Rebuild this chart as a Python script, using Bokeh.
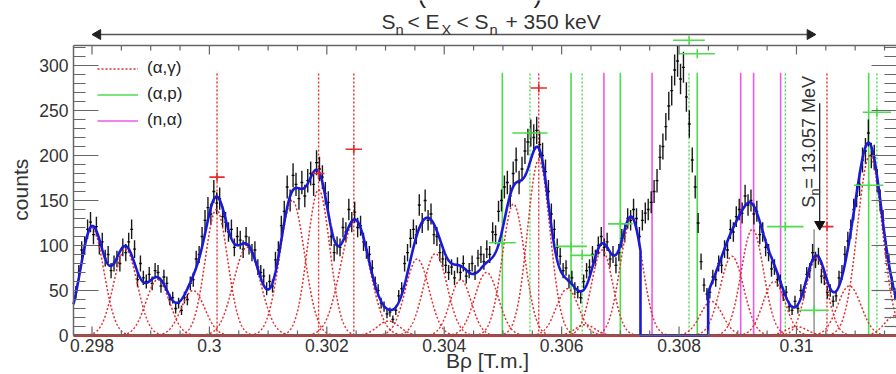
import math
import numpy as np
from bokeh.plotting import figure
from bokeh.models import Range1d, Legend, LegendItem, Grid
from bokeh.core.properties import value
from bokeh.embed import file_html
from bokeh.resources import INLINE

FONT = "Liberation Sans"
TXT = "#333333"

# ---------------- data ----------------
# focal-plane spectrum, Bρ bins of 0.00005 T.m. starting at 0.2977 T.m.
bin_start = 0.2977
bin_width = 0.00005
counts = [
    48, 70, 95, 100, 118, 126, 112, 121, 100, 104,
    86, 90, 72, 80, 85, 80, 98, 92, 104, 118,
    96, 62, 80, 64, 60, 68, 58, 72, 70, 55,
    65, 58, 40, 42, 30, 36, 28, 42, 40, 58,
    62, 85, 90, 110, 128, 142, 135, 160, 147, 152,
    132, 126, 115, 118, 98, 110, 106, 96, 110, 100,
    92, 95, 76, 70, 66, 52, 60, 55, 84, 95,
    122, 138, 165, 150, 178, 168, 152, 170, 155, 172,
    180, 168, 192, 185, 176, 158, 148, 110, 92, 100,
    98, 120, 115, 140, 126, 137, 120, 122, 104, 95,
    90, 75, 58, 50, 36, 32, 24, 26, 18, 28,
    44, 52, 80, 92, 108, 118, 112, 145, 125, 150,
    128, 135, 112, 110, 92, 85, 78, 70, 76, 64,
    78, 70, 80, 66, 72, 80, 70, 86, 90, 82,
    96, 90, 115, 112, 138, 150, 165, 170, 155, 180,
    195, 170, 185, 205, 215, 225, 220, 228, 212, 200,
    182, 160, 135, 118, 98, 88, 72, 75, 60, 64,
    52, 48, 42, 60, 72, 76, 90, 86, 100, 110,
    98, 104, 85, 90, 78, 92, 108, 114, 130, 128,
    140, 130, 110, 128, 136, 140, 148, 160, 172, 198,
    210, 232, 255, 272, 295, 305, 285, 298, 265, 235,
    195, 165, 125, 82, 56, 46, 48, 65, 62, 80,
    78, 96, 95, 118, 115, 132, 140, 136, 155, 145,
    150, 135, 138, 112, 115, 98, 92, 74, 76, 62,
    60, 45, 48, 32, 28, 38, 30, 50, 48, 68,
    72, 92, 84, 88, 66, 64, 48, 50, 38, 44,
    64, 70, 90, 105, 118, 140, 155, 168, 195, 205,
    225, 200, 198, 172, 150, 128, 95, 82, 58, 46,
    40,
]

# Gaussian components of the multi-peak fit (centre [T.m.], height [counts], sigma [T.m.])
peak_center = [0.29800, 0.29857, 0.29912, 0.29972, 0.30012, 0.30064, 0.30141, 0.30186,
               0.30248, 0.30305, 0.30354, 0.30385, 0.30428, 0.30472, 0.30518, 0.30561,
               0.30610, 0.30640, 0.30669, 0.30719, 0.30855, 0.30890, 0.30925, 0.30962,
               0.31000, 0.31034, 0.31090, 0.31125, 0.31168]
peak_amp = [120, 96, 62, 50, 140, 98, 150, 162,
            128, 16, 85, 91, 62, 70, 146, 195,
            52, 12, 95, 130, 38, 88, 118, 60,
            10, 86, 55, 200, 22]
peak_sigma = [0.00020, 0.00020, 0.00020, 0.00020, 0.00019, 0.00023, 0.00021, 0.00019,
              0.000245, 0.00019, 0.00020, 0.00020, 0.00018, 0.00020, 0.00019, 0.00019,
              0.00019, 0.00017, 0.00018, 0.00019, 0.00019, 0.00020, 0.00019, 0.00019,
              0.00018, 0.00018, 0.00020, 0.00021, 0.00018]

# Bρ interval left out of the fit
fit_excluded = [0.307343, 0.308496]

# expected resonance positions for each reaction channel
ag_lines = [0.30013, 0.30186, 0.30246, 0.30561, 0.31052]
ap_lines = [0.30499, 0.30616, 0.30700, 0.30831, 0.31123]
ap_lines_dotted = [0.30546, 0.30635, 0.30817, 0.30981, 0.31137]
na_lines = [0.30672, 0.30754, 0.30905, 0.30927, 0.30973]
line_top = 292

# reference heights with uncertainties
ag_mark_x = [0.30013, 0.30186, 0.30246, 0.30561, 0.31052]
ag_mark_y = [176, 180, 207, 275, 121]
ag_mark_dx = [0.00013, 0.00010, 0.00014, 0.00014, 0.00011]
ap_mark_x = [0.30499, 0.30546, 0.30616, 0.30635, 0.30700, 0.30817, 0.30831,
             0.30981, 0.31030, 0.31123, 0.31137]
ap_mark_y = [103, 225, 99, 89, 124, 328, 313, 121, 28, 167, 248]
ap_mark_dx = [0.00023, 0.00030, 0.00027, 0.00020, 0.00021, 0.00027, 0.00030,
              0.00031, 0.00025, 0.00025, 0.00024]

sn_brho = 0.31030          # Bρ of the neutron separation energy
window_low = 0.29803       # Bρ of Sn + 350 keV

x_ticks = [0.298, 0.300, 0.302, 0.304, 0.306, 0.308, 0.310]
x_tick_labels = ["0.298", "0.3", "0.302", "0.304", "0.306", "0.308", "0.31"]
y_ticks = [0, 50, 100, 150, 200, 250, 300]
y_tick_labels = ["0", "50", "100", "150", "200", "250", "300"]

# ---------------- canvas geometry ----------------
# the whole canvas is one data space; the histogram frame sits inside it
CX0, CX1 = 0.2964414, 0.311704
CY0, CY1 = -43.333, 372.222
W, H = 896, 374
PXX = (CX1 - CX0) / W      # T.m. per pixel
PXY = (CY1 - CY0) / H      # counts per pixel
FX0, FX1 = 0.297685, CX1   # frame edges
FY0, FY1 = 0.0, 322.2

p = figure(width=W, height=H, x_range=Range1d(CX0, CX1), y_range=Range1d(CY0, CY1),
           x_axis_location=None, y_axis_location=None,
           output_backend="svg", toolbar_location=None,
           min_border=0, min_border_left=0, min_border_right=0,
           min_border_top=0, min_border_bottom=0)
p.outline_line_color = None
p.background_fill_color = "white"
p.border_fill_color = "white"
for g in p.select(type=Grid):
    g.visible = False

RED = "#e62a2a"
GREEN = "#4cdc4c"
MAGENTA = "#ea5aea"
BLUE = "#1a1ad6"
AX = "#666666"


def txt(x, y, s, size, align="left", angle=0.0, color=TXT):
    # texts are anchored on the middle of their capitals
    p.text(x=[x], y=[y], text=[s], text_font=value(FONT), text_font_size=value(size),
           text_align=align, text_baseline="middle", angle=angle, text_color=color)


# ---------------- channel lines ----------------
r_ag = p.segment(x0=ag_lines, y0=0, x1=ag_lines, y1=line_top,
                 line_color=RED, line_width=1.4, line_dash="2 2")
r_ap = p.segment(x0=ap_lines, y0=0, x1=ap_lines, y1=line_top,
                 line_color=GREEN, line_width=1.6)
p.segment(x0=ap_lines_dotted, y0=0, x1=ap_lines_dotted, y1=line_top,
          line_color=GREEN, line_width=1.4, line_dash="2 2")
r_na = p.segment(x0=na_lines, y0=0, x1=na_lines, y1=line_top,
                 line_color=MAGENTA, line_width=1.6)

# separation-energy position
p.segment(x0=[sn_brho], y0=[0], x1=[sn_brho], y1=[118], line_color="#777777", line_width=1.2)

# ---------------- histogram with errors ----------------
cnt = np.array(counts, dtype=float)
edges = bin_start + bin_width * np.arange(len(cnt) + 1)
centers = 0.5 * (edges[:-1] + edges[1:])
err = np.sqrt(cnt)
p.segment(x0=edges[:-1], y0=cnt, x1=edges[1:], y1=cnt, line_color="#000000",
          line_width=1.3, line_alpha=0.9)
p.segment(x0=centers, y0=cnt - err, x1=centers, y1=cnt + err, line_color="#000000",
          line_width=1.4, line_alpha=0.9)

# ---------------- fit components and total ----------------
xf = np.linspace(FX0, FX1, 3500)
total = np.zeros_like(xf)
comp_xs, comp_ys = [], []
for c, a, s in zip(peak_center, peak_amp, peak_sigma):
    g = a * np.exp(-0.5 * ((xf - c) / s) ** 2)
    total += g
    m = np.abs(xf - c) < 6 * s
    comp_xs.append(xf[m])
    comp_ys.append(g[m])
p.multi_line(xs=comp_xs, ys=comp_ys, line_color=RED, line_width=1.5, line_dash="2 2")
p.segment(x0=[FX0], y0=[0], x1=[FX1], y1=[0], line_color=RED, line_width=3)


def fit_at(x):
    return sum(a * math.exp(-0.5 * ((x - c) / s) ** 2)
               for c, a, s in zip(peak_center, peak_amp, peak_sigma))


lo, hi = fit_excluded
ml = xf < lo
mr = xf > hi
fx = np.concatenate([xf[ml], [lo, lo, hi, hi], xf[mr]])
fy = np.concatenate([total[ml], [fit_at(lo), 0, 0, fit_at(hi)], total[mr]])
p.line(fx, fy, line_color=BLUE, line_width=2.6)


# ---------------- reference heights ----------------
def draw_marks(xs, ys, dxs, color):
    p.segment(x0=[x - d for x, d in zip(xs, dxs)], y0=ys,
              x1=[x + d for x, d in zip(xs, dxs)], y1=ys,
              line_color=color, line_width=1.6)
    p.segment(x0=xs, y0=[y - 5 for y in ys], x1=xs, y1=[y + 5 for y in ys],
              line_color=color, line_width=1.6)


draw_marks(ag_mark_x, ag_mark_y, ag_mark_dx, RED)
draw_marks(ap_mark_x, ap_mark_y, ap_mark_dx, GREEN)

# ---------------- frame, ticks and tick labels ----------------
p.segment(x0=[FX0, FX0, FX0], y0=[FY0, FY1, FY0], x1=[FX0, FX1, FX1], y1=[FY1, FY1, FY0],
          line_color=AX, line_width=1.5)

x_minor = []
for a, b in zip(x_ticks[:-1], x_ticks[1:]):
    step = (b - a) / 4
    x_minor += [a + k * step for k in range(1, 4)]
x_minor += [x_ticks[-1] + 0.0005 * k for k in range(1, 4)]
y_minor = [v for v in range(10, 330, 10) if v % 50]

tick_x, tick_y0, tick_y1 = [], [], []
for t, ln in [(t, 9) for t in x_ticks] + [(t, 5) for t in x_minor]:
    tick_x += [t, t]
    tick_y0 += [FY0, FY1]
    tick_y1 += [FY0 + ln * PXY, FY1 - ln * PXY]
p.segment(x0=tick_x, y0=tick_y0, x1=tick_x, y1=tick_y1, line_color=AX, line_width=1.2)

tick_yy, tick_x0, tick_x1 = [], [], []
for t, ln in [(t, 25) for t in y_ticks] + [(t, 12) for t in y_minor]:
    tick_yy += [t, t]
    tick_x0 += [FX0, FX1]
    tick_x1 += [FX0 + ln * PXX, FX1 - ln * PXX]
p.segment(x0=tick_x0, y0=tick_yy, x1=tick_x1, y1=tick_yy, line_color=AX, line_width=1.2)

p.text(x=x_ticks, y=[FY0 - 3 * PXY] * len(x_ticks), text=x_tick_labels,
       text_font=value(FONT), text_font_size=value("17.5px"), text_align="center",
       text_baseline="top", text_color=TXT)
p.text(x=[FX0 - 5 * PXX] * len(y_ticks), y=y_ticks, text=y_tick_labels,
       text_font=value(FONT), text_font_size=value("17.5px"), text_align="right",
       text_baseline="middle", text_color=TXT)

# axis titles
txt((FX0 + FX1) / 2 + 2.5 * PXX, FY0 - 24.5 * PXY, "Bρ [T.m.]", "21px", align="center")
txt(FX0 - 53 * PXX, 162, "counts", "21px", align="center", angle=math.pi / 2)

# ---------------- window arrow and title ----------------
arrow_y = FY1 + 11 * PXY
p.segment(x0=[window_low + 6 * PXX], y0=[arrow_y], x1=[sn_brho - 6 * PXX], y1=[arrow_y],
          line_color="#555555", line_width=1.5)
p.scatter(x=[window_low + 4 * PXX, sn_brho - 4 * PXX], y=[arrow_y, arrow_y],
          marker="triangle", size=10, angle=[math.pi / 2, -math.pi / 2],
          fill_color="#222222", line_color="#222222")

title_x0 = CX0 + 381 * PXX
title_mid = FY1 + 24.5 * PXY
sub_mid = FY1 + 16 * PXY
title_parts = [(0, "S", False), (14, "n", True), (26, "<", False), (44, "E", False),
               (60, "X", True), (75, "<", False), (93, "S", False), (108, "n", True),
               (124, "+ 350 keV", False)]
for dx, t, sub in title_parts:
    if sub:
        txt(title_x0 + dx * PXX, sub_mid, t, "14.7px")
    else:
        txt(title_x0 + dx * PXX, title_mid, t, "21px")

# clipped heading above
txt(CX0 + 417 * PXX, CY1 + 7 * PXY, "(", "26px", color="#222222")
txt(CX0 + 533 * PXX, CY1 + 7 * PXY, ")", "26px", color="#222222")

# ---------------- separation-energy arrow and label ----------------
sn_arrow_x = sn_brho + 5.6 * PXX
p.segment(x0=[sn_arrow_x], y0=[258], x1=[sn_arrow_x], y1=[125],
          line_color="#222222", line_width=1.3)
p.scatter(x=[sn_arrow_x], y=[119 + 4 * PXY], marker="triangle", size=10, angle=math.pi,
          fill_color="#111111", line_color="#111111")

txt(sn_brho - 5.2 * PXX, 142, "S", "18px", angle=math.pi / 2)
txt(sn_brho + 0.8 * PXX, 155.6, "n", "12.5px", angle=math.pi / 2)
txt(sn_brho - 5.2 * PXX, 163.3, " = 13.057 MeV", "18px", angle=math.pi / 2)

# ---------------- legend ----------------
legend = Legend(items=[LegendItem(label="(α,γ)", renderers=[r_ag]),
                       LegendItem(label="(α,p)", renderers=[r_ap]),
                       LegendItem(label="(n,α)", renderers=[r_na])],
                location=(97, 244))
legend.background_fill_alpha = 0
legend.border_line_color = None
legend.padding = 0
legend.margin = 0
legend.spacing = 6
legend.glyph_width = 41
legend.glyph_height = 17
legend.label_height = 17
legend.label_standoff = 9
legend.label_text_font = FONT
legend.label_text_font_size = "17px"
legend.label_text_color = "#222222"
p.add_layout(legend)

open("out.html", "w").write(file_html(p, INLINE))
